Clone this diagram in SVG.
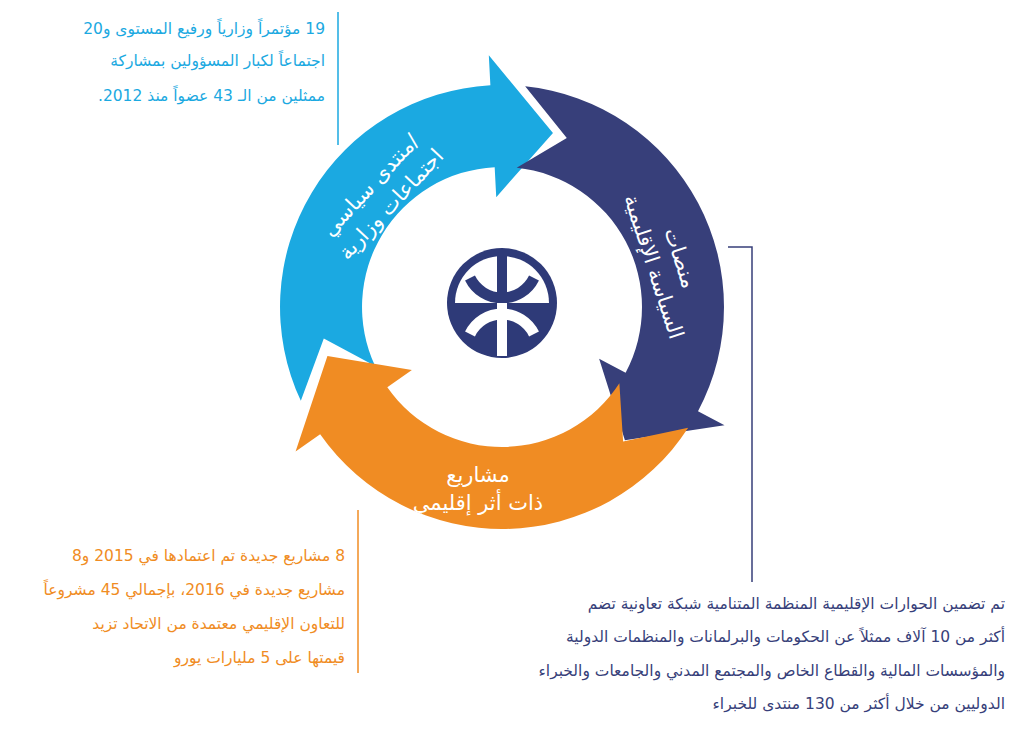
<svg xmlns="http://www.w3.org/2000/svg" width="1024" height="742" viewBox="0 0 1024 742">
<style>
text{font-family:"DejaVu Sans","Noto Sans",sans-serif;direction:rtl}
.lbl{fill:#fff;font-size:21px;text-anchor:middle}
.p{font-size:15.5px;text-anchor:start}
</style>
<defs>
<path id="arr" d="M -83.2 -205.8 A 222 222 0 0 1 222 0 L 252 0 L 171.1 60 L 110 0 L 140 0 A 140 140 0 0 0 -52.4 -129.8 L -22.1 -179.6 Z"/>
</defs>
<rect width="1024" height="742" fill="#fff"/>
<g id="connectors" fill="none" stroke-width="1.5">
<path d="M338 12 V145" stroke="#1ba9e1"/>
<path d="M728 247 H752 V582" stroke="#373f7a"/>
<path d="M358 510 V673" stroke="#f08c23"/>
</g>
<g id="blue"><use href="#arr" fill="#1ba9e1" transform="translate(502,307) rotate(267)"/></g>
<g id="navy"><use href="#arr" fill="#373f7a" transform="translate(502,307) rotate(28)"/></g>
<g id="orange"><use href="#arr" fill="#f08c23" transform="translate(502,307) rotate(145)"/></g>
<g id="blue-label" transform="translate(380,194) rotate(-47)"><text class="lbl" x="0" y="-6">/منتدى سياسي</text><text class="lbl" x="0" y="22">اجتماعات وزارية</text></g>
<g id="navy-label" transform="translate(668,262) rotate(72)"><text class="lbl" x="0" y="-6">منصات</text><text class="lbl" x="0" y="22">السياسة الإقليمية</text></g>
<g id="orange-label"><text class="lbl" x="478" y="482">مشاريع</text><text class="lbl" x="478" y="510">ذات أثر إقليمي</text></g>
<g id="logo">
<circle cx="502" cy="303" r="55" fill="#2e3a78"/>
<path d="M 455 303 A 47 47 0 0 1 549 303 Z" fill="#fff"/>
<path d="M 470 278 A 35.6 35.6 0 0 0 534 278" fill="none" stroke="#2e3a78" stroke-width="11"/>
<path d="M502 250 V303" stroke="#2e3a78" stroke-width="10"/>
<path d="M 470 334 A 35.6 35.6 0 0 1 534 334" fill="none" stroke="#fff" stroke-width="11"/>
<path d="M502 303 V356" stroke="#fff" stroke-width="10"/>
</g>
<g id="note-blue" fill="#1ba9e1">
<text class="p" x="325" y="34">19 مؤتمراً وزارياً ورفيع المستوى و20</text>
<text class="p" x="325" y="66">اجتماعاً لكبار المسؤولين بمشاركة</text>
<text class="p" x="325" y="101">ممثلين من الـ 43 عضواً منذ 2012.</text>
</g>
<g id="note-navy" fill="#373f7a">
<text class="p" x="1005" y="609">تم تضمين الحوارات الإقليمية المنظمة المتنامية شبكة تعاونية تضم</text>
<text class="p" x="1005" y="642">أكثر من 10 آلاف ممثلاً عن الحكومات والبرلمانات والمنظمات الدولية</text>
<text class="p" x="1005" y="676">والمؤسسات المالية والقطاع الخاص والمجتمع المدني والجامعات والخبراء</text>
<text class="p" x="1005" y="709">الدوليين من خلال أكثر من 130 منتدى للخبراء</text>
</g>
<g id="note-orange" fill="#f08c23">
<text class="p" x="345" y="561">8 مشاريع جديدة تم اعتمادها في 2015 و8</text>
<text class="p" x="345" y="595">مشاريع جديدة في 2016، بإجمالي 45 مشروعاً</text>
<text class="p" x="345" y="629">للتعاون الإقليمي معتمدة من الاتحاد تزيد</text>
<text class="p" x="345" y="663">قيمتها على 5 مليارات يورو</text>
</g>
</svg>
